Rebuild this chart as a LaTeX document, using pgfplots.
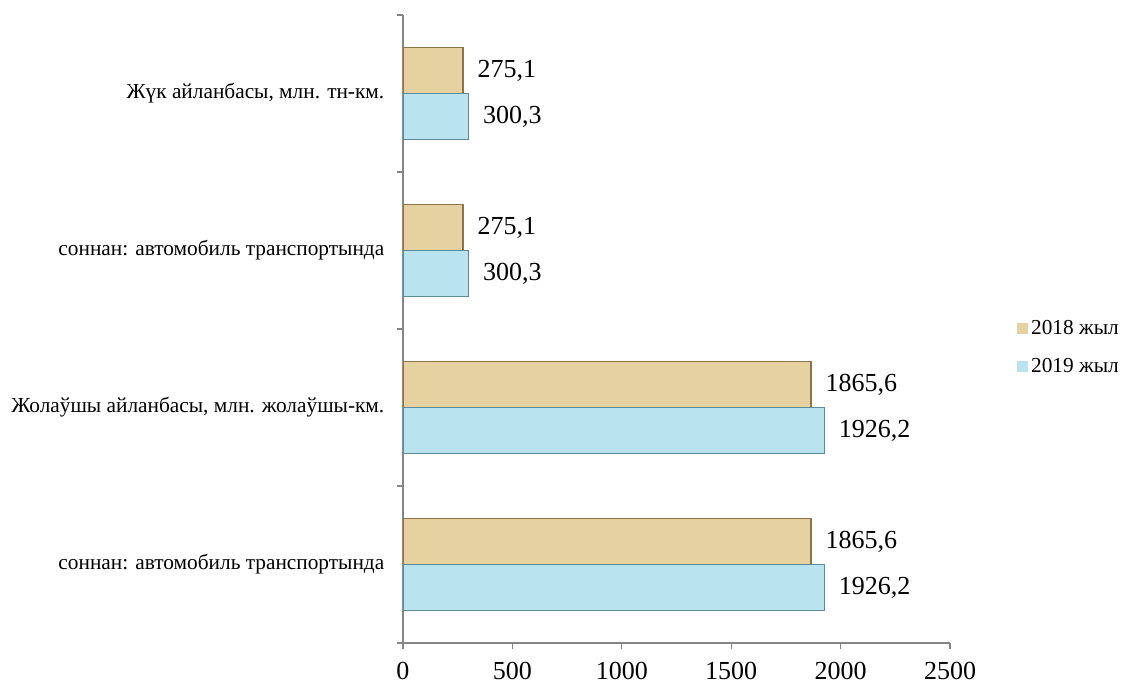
\documentclass[border=0pt]{standalone}
\usepackage{fontspec}
\setmainfont{Liberation Serif}
\usepackage{pgfplots}
\pgfplotsset{compat=1.18}
\definecolor{axgray}{HTML}{868686}
\definecolor{tanfill}{HTML}{E6D1A0}
\definecolor{tanedge}{HTML}{8C7448}
\definecolor{bluefill}{HTML}{B9E3EE}
\definecolor{blueedge}{HTML}{5C8A96}
\newcommand\catfont{\fontsize{16}{18}\selectfont}
\newcommand\valfont{\fontsize{19.5}{22}\selectfont}
\newcommand\legfont{\fontsize{16}{18}\selectfont}
\begin{document}
\begin{tikzpicture}
\path[use as bounding box] (0pt,0pt) rectangle (840.75pt,515.25pt);
\begin{axis}[
  at={(302.25pt,33pt)}, anchor=south west,
  scale only axis, width=410.25pt, height=471pt,
  xbar=0pt, bar width=34.5pt,
  xmin=0, xmax=2500, ymin=-0.5, ymax=3.5,
  axis x line*=bottom, axis y line*=left,
  axis line style={draw=axgray, line width=0.9pt, -},
  /pgf/number format/assume math mode=true,
  /pgf/number format/1000 sep={},
  xtick={0,500,1000,1500,2000,2500},
  xticklabel style={font=\valfont, yshift=-6pt},
  tick align=outside,
  tick style={draw=axgray, line width=0.9pt},
  major tick length=4.5pt,
  ytick={-0.5,0.5,1.5,2.5,3.5}, yticklabels={},
  extra y ticks={0,1,2,3},
  extra y tick labels={соннан: автомобиль транспортында, {Жолаўшы айланбасы, млн. жолаўшы-км.}, соннан: автомобиль транспортында, {Жүк айланбасы, млн. тн-км.}},
  extra y tick style={tick style={draw=none}, yticklabel style={font=\catfont, xshift=-6pt}},
  nodes near coords={\pgfmathprintnumber[use comma,fixed,fixed zerofill,precision=1,1000 sep={}]{\pgfplotspointmeta}},
  nodes near coords align={horizontal},
  every node near coord/.append style={font=\valfont, text=black, xshift=7pt},
  point meta=x,
  legend style={at={(1.1225,0.4705)}, anchor=west, draw=none, fill=none, font=\legfont, row sep=12pt, inner sep=0pt},
  legend cell align=left,
  legend image code/.code={\path[#1, draw=none] (0pt,-4.2pt) rectangle (8.4pt,4.2pt);},
]
\addplot[fill=tanfill, draw=tanedge, line width=1.1pt, bar shift=17.25pt]
  coordinates {(1865.6,0) (1865.6,1) (275.1,2) (275.1,3)};
\addlegendentry{2018 жыл}
\addplot[fill=bluefill, draw=blueedge, line width=1.1pt, bar shift=-17.25pt]
  coordinates {(1926.2,0) (1926.2,1) (300.3,2) (300.3,3)};
\addlegendentry{2019 жыл}
\end{axis}
\end{tikzpicture}
\end{document}
